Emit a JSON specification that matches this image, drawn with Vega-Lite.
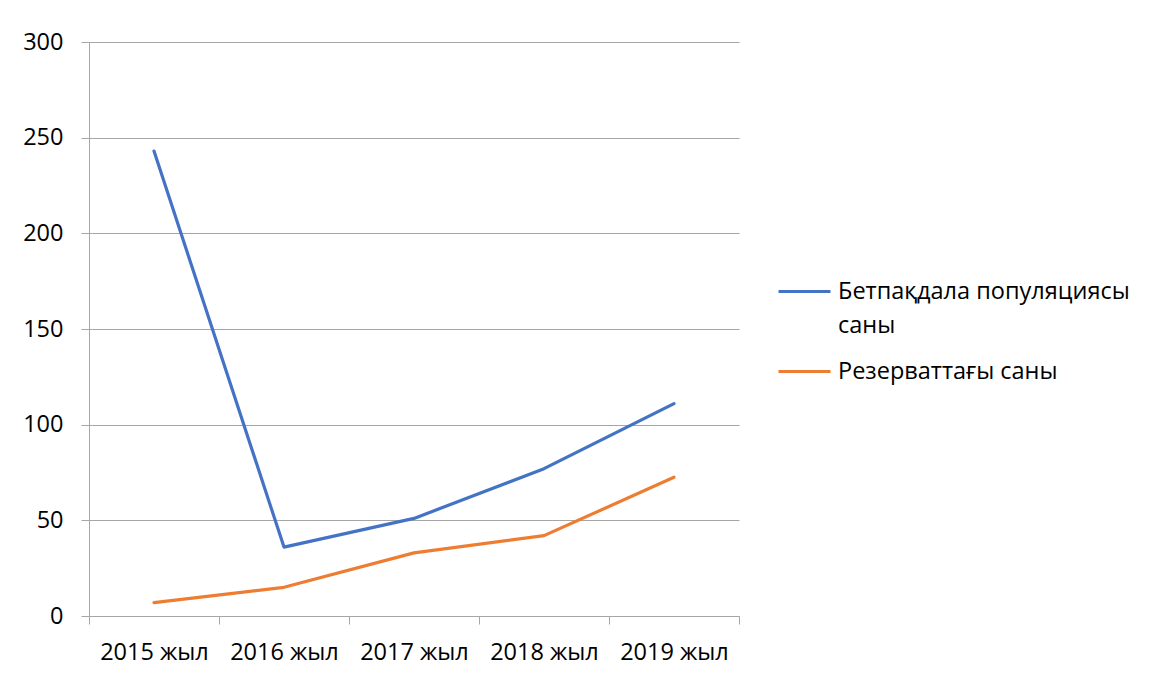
{
  "$schema": "https://vega.github.io/schema/vega-lite/v6.json",
  "autosize": "none",
  "width": 650,
  "height": 574,
  "padding": {"left": 89, "top": 42, "right": 410, "bottom": 63},
  "background": "white",
  "config": {
    "font": "Open Sans",
    "view": {"stroke": null},
    "style": {"guide-label": {"lineHeight": 34}}
  },
  "data": {
    "values": [
      {"year": "2015 жыл", "series": "Бетпақдала популяциясы саны", "value": 243},
      {"year": "2016 жыл", "series": "Бетпақдала популяциясы саны", "value": 36},
      {"year": "2017 жыл", "series": "Бетпақдала популяциясы саны", "value": 51},
      {"year": "2018 жыл", "series": "Бетпақдала популяциясы саны", "value": 77},
      {"year": "2019 жыл", "series": "Бетпақдала популяциясы саны", "value": 111},
      {"year": "2015 жыл", "series": "Резерваттағы саны", "value": 7},
      {"year": "2016 жыл", "series": "Резерваттағы саны", "value": 15},
      {"year": "2017 жыл", "series": "Резерваттағы саны", "value": 33},
      {"year": "2018 жыл", "series": "Резерваттағы саны", "value": 42},
      {"year": "2019 жыл", "series": "Резерваттағы саны", "value": 72.5}
    ]
  },
  "mark": {"type": "line", "strokeWidth": 3.2, "strokeCap": "round", "strokeJoin": "round"},
  "encoding": {
    "x": {
      "field": "year",
      "type": "nominal",
      "sort": null,
      "scale": {"type": "band", "paddingInner": 0, "paddingOuter": 0},
      "axis": {
        "title": null,
        "labelAngle": 0,
        "labelFontSize": 23.5,
        "labelColor": "#000000",
        "labelPadding": 16,
        "tickBand": "extent",
        "tickSize": 8,
        "tickColor": "#A6A6A6",
        "domainColor": "#A6A6A6",
        "grid": false
      }
    },
    "y": {
      "field": "value",
      "type": "quantitative",
      "scale": {"domain": [0, 300], "nice": false},
      "axis": {
        "title": null,
        "values": [0, 50, 100, 150, 200, 250, 300],
        "labelFontSize": 23.5,
        "labelColor": "#000000",
        "labelPadding": 18,
        "tickSize": 8,
        "tickColor": "#A6A6A6",
        "domainColor": "#A6A6A6",
        "gridColor": "#A6A6A6",
        "gridOpacity": 1
      }
    },
    "color": {
      "field": "series",
      "type": "nominal",
      "scale": {"domain": ["Бетпақдала популяциясы саны", "Резерваттағы саны"], "range": ["#4472C4", "#ED7D31"]},
      "legend": {
        "title": null,
        "orient": "none",
        "legendX": 688,
        "legendY": 222,
        "symbolType": "stroke",
        "symbolSize": 2704,
        "symbolStrokeWidth": 3,
        "labelFontSize": 23.5,
        "labelColor": "#000000",
        "labelOffset": 6,
        "rowPadding": 7,
        "labelLimit": 400,
        "labelExpr": "datum.label == 'Бетпақдала популяциясы саны' ? ['Бетпақдала популяциясы', 'саны'] : datum.label"
      }
    }
  }
}
